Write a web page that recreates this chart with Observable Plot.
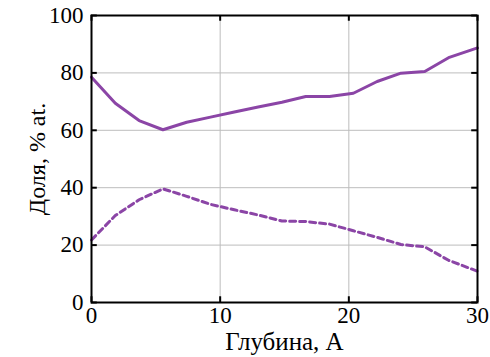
<!DOCTYPE html>
<html>
<head>
<meta charset="utf-8">
<script src="https://cdn.jsdelivr.net/npm/d3@7"></script>
<script src="https://cdn.jsdelivr.net/npm/@observablehq/plot@0.6"></script>
<style>
  html, body { margin: 0; padding: 0; background: #fff; }
</style>
</head>
<body>
<div id="chart"></div>
<script>
const depth = [0, 1.85, 3.7, 5.55, 7.4, 9.25, 11.1, 12.95, 14.8, 16.65, 18.5, 20.35, 22.2, 24.05, 25.9, 27.75, 30];
const solidShare = [78.5, 69.4, 63.4, 60.2, 62.8, 64.6, 66.4, 68.1, 69.8, 71.8, 71.8, 72.9, 77.0, 79.9, 80.5, 85.3, 88.7];
const dashedShare = [21.8, 30.3, 35.8, 39.6, 37.0, 34.2, 32.3, 30.5, 28.4, 28.2, 27.3, 25.0, 22.7, 20.2, 19.4, 14.7, 10.9];
const xTicks = [0, 10, 20, 30];
const yTicks = [0, 20, 40, 60, 80, 100];
const xGrid = [10, 20];
const yGrid = [20, 40, 60, 80];
const xLabel = "Глубина, А";
const yLabel = "Доля, % at.";

const solid = depth.map((d, i) => ({x: d, y: solidShare[i]}));
const dashed = depth.map((d, i) => ({x: d, y: dashedShare[i]}));
const color = "#8b45a6";
const font = "Liberation Serif";

const chart = Plot.plot({
  width: 490,
  height: 357,
  marginLeft: 91,
  marginRight: 13,
  marginTop: 15,
  marginBottom: 55,
  style: {background: "#fff", color: "#000"},
  x: {domain: [0, 30]},
  y: {domain: [0, 100]},
  marks: [
    Plot.gridX(xGrid, {stroke: "#bdbdbd", strokeOpacity: 1, strokeWidth: 1}),
    Plot.gridY(yGrid, {stroke: "#bdbdbd", strokeOpacity: 1, strokeWidth: 1}),
    Plot.axisX(xTicks, {tickSize: 0, tickPadding: 4, fontSize: 23, fontFamily: font, label: xLabel, labelAnchor: "center", labelArrow: "none", labelOffset: 47}),
    Plot.axisY(yTicks, {tickSize: 0, tickPadding: 8, fontSize: 23, fontFamily: font, label: yLabel, labelAnchor: "center", labelArrow: "none", labelOffset: 64}),
    Plot.ruleX(xTicks, {x: d => d, y1: 0, y2: 2, stroke: "#000", strokeWidth: 2}),
    Plot.ruleX(xTicks, {x: d => d, y1: 98, y2: 100, stroke: "#000", strokeWidth: 2}),
    Plot.ruleY(yTicks, {y: d => d, x1: 0, x2: 0.45, stroke: "#000", strokeWidth: 2}),
    Plot.ruleY(yTicks, {y: d => d, x1: 29.55, x2: 30, stroke: "#000", strokeWidth: 2}),
    Plot.line(solid, {x: "x", y: "y", stroke: color, strokeWidth: 3}),
    Plot.line(dashed, {x: "x", y: "y", stroke: color, strokeWidth: 3, strokeDasharray: "6,4"}),
    Plot.frame({stroke: "#000", strokeWidth: 2})
  ]
});
d3.select(chart).selectAll("text").each(function() {
  const t = this.textContent;
  if (t === xLabel) d3.select(this).attr("font-size", 25);
  if (t === yLabel) d3.select(this).attr("font-size", 24);
});
document.getElementById("chart").appendChild(chart);
</script>
</body>
</html>
